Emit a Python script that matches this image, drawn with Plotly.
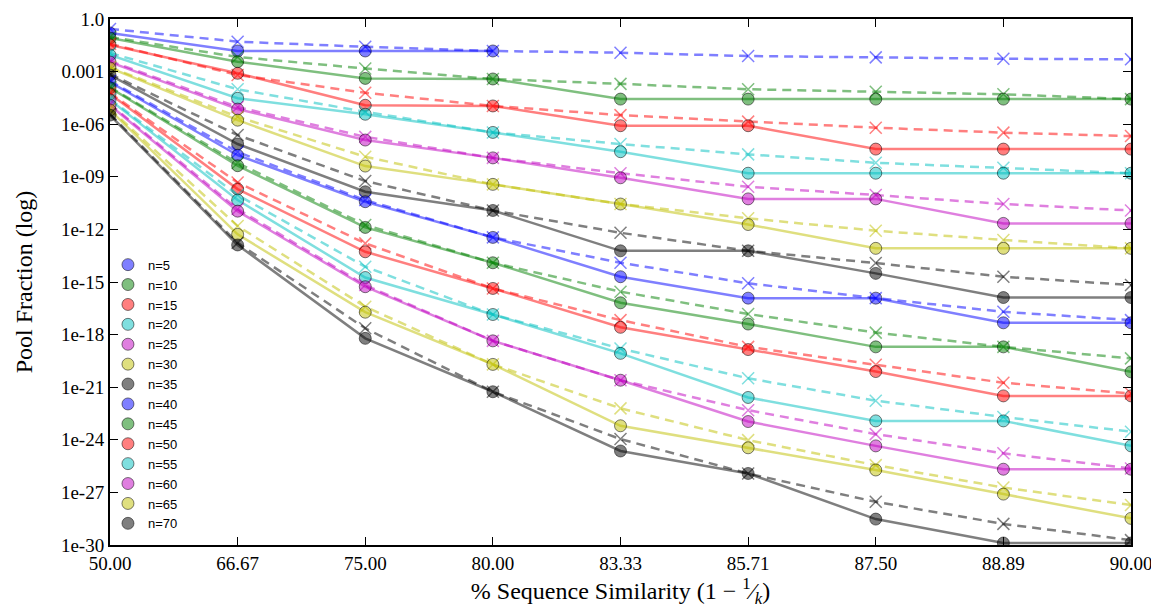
import plotly.graph_objects as go

similarity = ["50.00", "66.67", "75.00", "80.00", "83.33", "85.71", "87.50", "88.89", "90.00"]
n_values = [5, 10, 15, 20, 25, 30, 35, 40, 45, 50, 55, 60, 65, 70]

# measured (solid, circles)
observed = {
    5:  [1.6e-1, 1.5e-2, 1.5e-2, 1.5e-2, None, None, None, None, None],
    10: [8.2e-2, 3.7e-3, 4.1e-4, 3.8e-4, 2.7e-5, 2.7e-5, 2.7e-5, 2.7e-5, 2.7e-5],
    15: [3.3e-2, 8.0e-4, 1.2e-5, 1.1e-5, 8.2e-7, 8.2e-7, 3.8e-8, 3.8e-8, 3.8e-8],
    20: [8.8e-3, 3.0e-5, 3.7e-6, 3.4e-7, 2.7e-8, 1.6e-9, 1.6e-9, 1.6e-9, 1.6e-9],
    25: [3.5e-3, 7.3e-6, 1.25e-7, 1.2e-8, 8.8e-10, 5.5e-11, 5.5e-11, 2.2e-12, 2.2e-12],
    30: [1.6e-3, 1.7e-6, 4.1e-9, 3.7e-10, 2.8e-11, 1.9e-12, 8.3e-14, 8.3e-14, 8.3e-14],
    35: [6.4e-4, 7.4e-8, 1.4e-10, 1.2e-11, 6.0e-14, 6.0e-14, 3.1e-15, 1.3e-16, 1.3e-16],
    40: [2.5e-4, 1.7e-8, 3.8e-11, 3.5e-13, 2.0e-15, 1.2e-16, 1.2e-16, 4.7e-18, 4.7e-18],
    45: [1.2e-4, 4.3e-9, 1.3e-12, 1.25e-14, 6.5e-17, 4.0e-18, 2.0e-19, 2.0e-19, 7.5e-21],
    50: [5.3e-5, 2.0e-10, 5.3e-14, 4.3e-16, 2.6e-18, 1.4e-19, 7.8e-21, 3.2e-22, 3.2e-22],
    55: [2.4e-5, 4.7e-11, 1.8e-15, 1.4e-17, 8.5e-20, 2.6e-22, 1.2e-23, 1.2e-23, 4.5e-25],
    60: [1.2e-5, 1.1e-11, 5.4e-16, 4.4e-19, 2.5e-21, 1.1e-23, 4.5e-25, 2.1e-26, 2.1e-26],
    65: [6.4e-6, 5.2e-13, 1.9e-17, 2.0e-20, 6.3e-24, 3.5e-25, 1.9e-26, 8.0e-28, 3.3e-29],
    70: [3.3e-6, 1.3e-13, 6.1e-19, 5.5e-22, 2.3e-25, 1.2e-26, 3.0e-29, 1.3e-30, 1.3e-30],
}

# expected (dashed, crosses)
expected = {
    5:  [2.7e-1, 5.1e-2, 2.6e-2, 1.5e-2, 1.2e-2, 7.7e-3, 6.5e-3, 5.4e-3, 5.0e-3],
    10: [9.4e-2, 6.8e-3, 1.5e-3, 3.8e-4, 2.0e-4, 9.8e-5, 7.1e-5, 5.1e-5, 2.7e-5],
    15: [3.8e-2, 6.4e-4, 6.2e-5, 1.1e-5, 3.3e-6, 1.4e-6, 6.3e-7, 3.3e-7, 2.1e-7],
    20: [1.15e-2, 9.8e-5, 5.1e-6, 3.4e-7, 7.4e-8, 1.9e-8, 6.3e-9, 3.3e-9, 1.6e-9],
    25: [4.0e-3, 9.5e-6, 1.9e-7, 1.2e-8, 1.6e-9, 2.7e-10, 9.1e-11, 2.8e-11, 1.2e-11],
    30: [1.8e-3, 2.6e-6, 1.4e-8, 3.7e-10, 2.8e-11, 4.3e-12, 8.4e-13, 2.5e-13, 8.3e-14],
    35: [7.3e-4, 2.4e-7, 5.7e-10, 1.2e-11, 6.4e-13, 6.0e-14, 1.2e-14, 2.0e-15, 6.7e-16],
    40: [2.9e-4, 2.6e-8, 4.7e-11, 3.5e-13, 1.25e-14, 8.4e-16, 1.2e-16, 2.0e-17, 6.7e-18],
    45: [1.3e-4, 6.1e-9, 1.8e-12, 1.25e-14, 2.8e-16, 1.5e-17, 1.3e-18, 2.0e-19, 4.4e-20],
    50: [6.0e-5, 4.7e-10, 1.6e-13, 4.3e-16, 6.7e-18, 2.0e-19, 1.9e-20, 1.8e-21, 4.4e-22],
    55: [2.7e-5, 9.1e-11, 7.4e-15, 1.4e-17, 1.6e-19, 3.2e-21, 1.7e-22, 2.0e-23, 2.9e-24],
    60: [1.4e-5, 1.45e-11, 6.7e-16, 4.4e-19, 2.5e-21, 4.9e-23, 2.1e-24, 1.7e-25, 2.3e-26],
    65: [7.3e-6, 1.55e-12, 3.9e-17, 2.0e-20, 6.2e-23, 9.6e-25, 3.6e-26, 1.9e-27, 1.9e-28],
    70: [3.8e-6, 1.7e-13, 2.3e-18, 5.5e-22, 1.1e-24, 1.2e-26, 2.9e-28, 1.6e-29, 1.9e-30],
}

y_tick_values = [1.0, 1e-3, 1e-6, 1e-9, 1e-12, 1e-15, 1e-18, 1e-21, 1e-24, 1e-27, 1e-30]
y_tick_labels = ["1.0", "0.001", "1e-06", "1e-09", "1e-12", "1e-15", "1e-18",
                 "1e-21", "1e-24", "1e-27", "1e-30"]

palette = ["rgba(0,0,255,0.5)", "rgba(0,128,0,0.5)", "rgba(255,0,0,0.5)",
           "rgba(0,191,191,0.5)", "rgba(191,0,191,0.5)", "rgba(191,191,0,0.5)",
           "rgba(0,0,0,0.5)"]

fig = go.Figure()
for i, n in enumerate(n_values):
    col = palette[i % len(palette)]
    fig.add_trace(go.Scatter(
        x=similarity, y=expected[n], mode="lines+markers",
        line=dict(color=col, width=2.5, dash="9px,6px"),
        marker=dict(symbol="x-thin", size=12, line=dict(color=col, width=1.5)),
        showlegend=False, hoverinfo="skip"))
    fig.add_trace(go.Scatter(
        x=similarity, y=observed[n], mode="lines",
        line=dict(color=col, width=2.5),
        showlegend=False, hoverinfo="skip"))
    fig.add_trace(go.Scatter(
        x=similarity, y=observed[n], mode="markers", name=f"n={n}",
        marker=dict(symbol="circle", size=12, color=col,
                    line=dict(color="rgba(0,0,0,0.5)", width=1))))

serif = "Liberation Serif"
# the page body adds an 8px margin, so the figure is sized to fit the 1159x616 window
fig.update_layout(
    width=1151, height=608,
    margin=dict(l=102, r=28, t=11, b=71),
    paper_bgcolor="white", plot_bgcolor="white",
    font=dict(family=serif, color="black"),
    showlegend=True,
    legend=dict(x=-0.002, y=0.012, xanchor="left", yanchor="bottom",
                bgcolor="rgba(0,0,0,0)", font=dict(family="Liberation Sans", size=13),
                tracegroupgap=0, itemwidth=30),
    xaxis=dict(type="category", range=[0, 8], showgrid=False, zeroline=False,
               automargin=False,
               showline=True, linecolor="black", linewidth=2, mirror="allticks",
               ticks="inside", ticklen=8, tickcolor="black",
               tickfont=dict(family=serif, size=19),
               title=dict(text="% Sequence Similarity (1 − <sup>1</sup>⁄<sub><i>k</i></sub>)",
                          font=dict(family=serif, size=24), standoff=6)),
    yaxis=dict(type="log", range=[-30, 0], showgrid=False, zeroline=False,
               automargin=False,
               showline=True, linecolor="black", linewidth=2, mirror="allticks",
               ticks="inside", ticklen=8, tickcolor="black",
               tickvals=y_tick_values, ticktext=y_tick_labels,
               tickfont=dict(family=serif, size=19),
               title=dict(text="Pool Fraction (log)", font=dict(family=serif, size=24), standoff=22)),
)

fig.write_html("out.html")
